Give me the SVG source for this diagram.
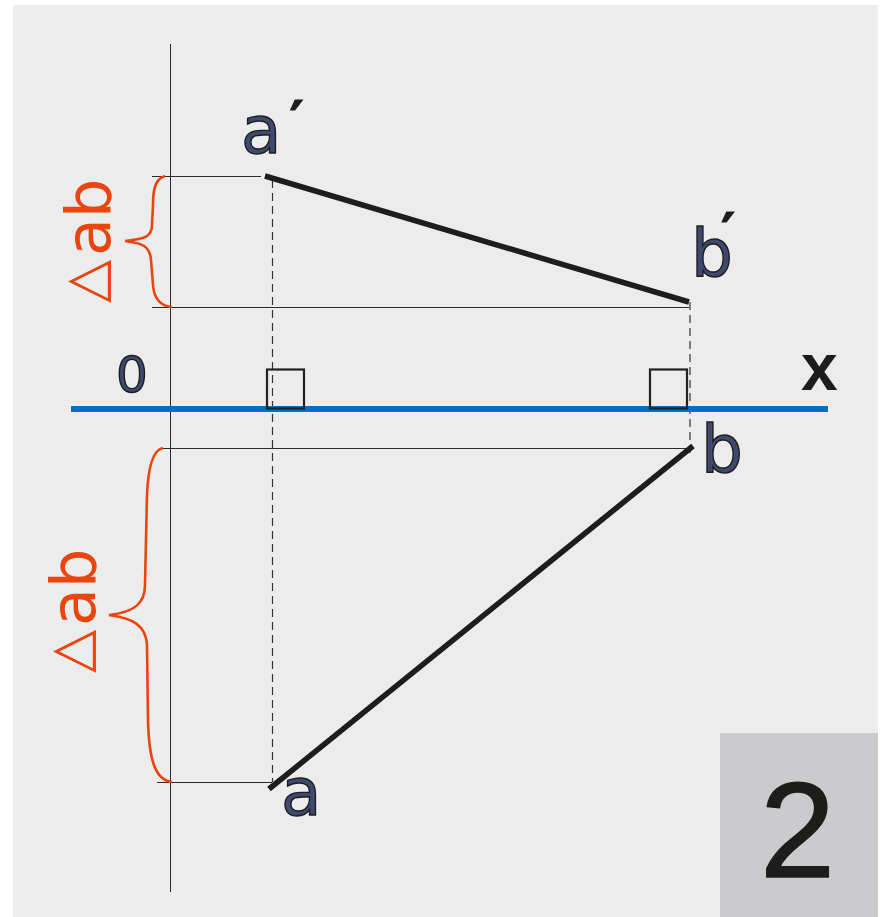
<svg xmlns="http://www.w3.org/2000/svg" width="883" height="917" viewBox="0 0 883 917">
<style>
.thin{stroke:#2b2b2b;stroke-width:1;fill:none}
.dash{stroke:#333;stroke-width:1.2;fill:none;stroke-dasharray:8 5}
.seg{stroke:#1d1d1b;stroke-width:5.500;fill:none}
.brace{stroke:#e8450f;stroke-width:2.600;fill:none}
.sq{stroke:#222;stroke-width:2.200;fill:none}
.lbl{font-family:"DejaVu Sans",sans-serif;font-size:66px;fill:#3f4870;stroke:#1d1d1b;stroke-width:1.400}
.pr{font-family:"DejaVu Sans",sans-serif;font-weight:bold;font-size:54px;fill:#1d1d1b;stroke:#1d1d1b;stroke-width:1}
.delta{font-family:"DejaVu Sans",sans-serif;font-size:62px;fill:#e8450f}
</style>
<rect id="page" x="0" y="0" width="883" height="917" fill="#fff"/>
<rect id="panel" x="13" y="5" width="865" height="912" fill="#ececec"/>
<g id="badge"><rect x="720" y="733" width="158" height="184" fill="#cbcbcd"/>
<text x="760" y="877" font-family="Liberation Sans,Arial,sans-serif" font-size="135" fill="#1d1d1b" stroke="#1d1d1b" stroke-width="1.500">2</text></g>
<g id="connectors">
<line class="thin" x1="170.500" y1="44" x2="170.500" y2="892"/>
<line class="thin" x1="152" y1="176.500" x2="261" y2="176.500"/>
<line class="thin" x1="152" y1="307.500" x2="689" y2="307.500"/>
<line class="thin" x1="162" y1="448.500" x2="690" y2="448.500"/>
<line class="thin" x1="157" y1="782.500" x2="272" y2="782.500"/>
<line class="dash" x1="272.500" y1="180" x2="272.500" y2="782"/>
<line class="dash" x1="690" y1="302" x2="690" y2="457"/>
<line x1="71" y1="409" x2="828" y2="409" stroke="#0070c0" stroke-width="6"/>
<line class="seg" x1="265" y1="176" x2="689" y2="302"/>
<line class="seg" x1="269" y1="789" x2="693" y2="446"/>
<rect class="sq" x="267" y="369.500" width="37" height="39"/>
<rect class="sq" x="650" y="369.500" width="37" height="39"/>
<path class="brace" d="M165 176C155 179 153 190 153 205L152 225C152 236 146 239 125 241C142 243 150 246 151 260L153 285C154 298 160 306 172 307"/>
<path class="brace" d="M163 448C152 450 148 470 147 495L145 585C145 603 135 612 109 615C132 618 146 625 147 645L148 720C149 760 155 780 172 782"/>
</g>
<g id="label-a-prime"><text class="lbl" x="241" y="153">a<tspan class="pr" dx="8" dy="-14">′</tspan></text></g>
<g id="label-b-prime"><text class="lbl" x="691" y="276">b<tspan class="pr" dx="-12" dy="-25">′</tspan></text></g>
<g id="label-a"><text class="lbl" x="281" y="815">a</text></g>
<g id="label-b"><text class="lbl" x="701" y="472">b</text></g>
<g id="label-0"><text class="lbl" x="116" y="392" style="font-size:50px">0</text></g>
<g id="label-x"><text x="801" y="390" font-family="Liberation Sans,Arial,sans-serif" font-weight="bold" font-size="66" fill="#1d1d1b">x</text></g>
<g id="delta-upper"><text class="delta" transform="translate(110 303) rotate(-90)"><tspan dy="-6" style="font-size:56px">△</tspan><tspan dy="6" dx="4">ab</tspan></text></g>
<g id="delta-lower"><text class="delta" transform="translate(95 673) rotate(-90)"><tspan dy="-6" style="font-size:56px">△</tspan><tspan dy="6" dx="4">ab</tspan></text></g>
</svg>
